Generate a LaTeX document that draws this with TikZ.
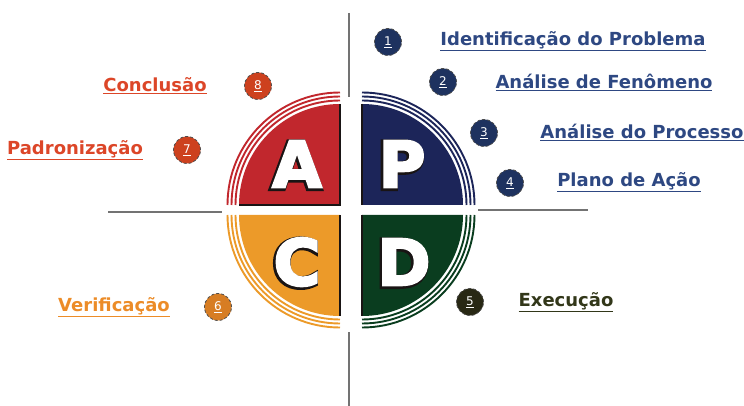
\documentclass[tikz,border=0pt]{standalone}
\usepackage{fontspec}
\setmainfont{DejaVu Sans}
\newfontfamily\letterout[FakeBold=8]{DejaVu Sans Bold}
\newfontfamily\letterin[FakeBold=3.5]{DejaVu Sans Bold}
\definecolor{cA}{RGB}{193,39,45}
\definecolor{cP}{RGB}{28,37,89}
\definecolor{cC}{RGB}{236,154,41}
\definecolor{cD}{RGB}{10,61,31}
\definecolor{lblue}{RGB}{46,72,130}
\definecolor{lred}{RGB}{220,70,40}
\definecolor{lorange}{RGB}{236,140,40}
\definecolor{ldark}{RGB}{50,55,25}
\definecolor{nblue}{RGB}{30,50,95}
\definecolor{ndark}{RGB}{40,40,20}
\definecolor{norange}{RGB}{215,125,35}
\definecolor{nred}{RGB}{205,65,30}
\definecolor{gline}{RGB}{115,115,115}
\definecolor{edge}{RGB}{25,20,20}
\begin{document}
\begin{tikzpicture}[x=1pt,y=-1pt,
  numc/.style={circle,minimum size=27pt,inner sep=0pt,draw=black!70,line width=0.8pt,densely dashed,text=white,font=\fontsize{12}{12}\selectfont},
  lbl/.style={inner sep=0pt,font=\fontsize{18}{18}\selectfont\bfseries},
  bigout/.style={inner sep=0pt,text=edge,font=\fontsize{64}{64}\selectfont\letterout},
  bigin/.style={inner sep=0pt,text=white,font=\fontsize{64}{64}\selectfont\letterin},
  sep/.style={draw=gline,line width=2.6pt}]
\useasboundingbox (0,0) rectangle (744,406);
% separator lines
\coordinate (vt1) at (349,13); \coordinate (vt2) at (349,97);
\coordinate (vb1) at (349,332); \coordinate (vb2) at (349,406);
\coordinate (hl1) at (108,212); \coordinate (hl2) at (222,212);
\coordinate (hr1) at (478,210); \coordinate (hr2) at (588,210);
\draw[sep] (vt1) -- (vt2);
\draw[sep] (vb1) -- (vb2);
\draw[sep] (hl1) -- (hl2);
\draw[sep] (hr1) -- (hr2);
% quadrants
\foreach \cx/\cy/\sa/\col in {340/205/180/cA, 362/205/270/cP, 340/215/90/cC, 362/215/0/cD}{
  \fill[\col] (\cx,\cy) -- ++(\sa:101) arc[start angle=\sa,delta angle=90,radius=101] -- cycle;
  \foreach \r in {104.5,108.5,112.5}
    \draw[\col,line width=1.9pt] ([shift={(\sa:\r)}]\cx,\cy) arc[start angle=\sa,delta angle=90,radius=\r];
}
% dark inner edges (shadow)
\draw[edge,line width=1.2pt] (239,205) -- (340,205) -- (340,104);
\draw[edge,line width=1.2pt] (362,104) -- (362,205);
\draw[edge,line width=1.2pt] (340,316) -- (340,215);
\draw[edge,line width=1.2pt] (362,215) -- (362,316);
% letters
\foreach \nm/\x/\y/\t in {A/297/164/A, P/402/164/P, C/297/262/C, D/404/262/D}{
  \node[bigout] at (\x-1.2,\y+1.2) {\t};
  \node[bigin] (L\nm) at (\x,\y) {\t};
}
% number circles
\node[numc,fill=nblue] (n1) at (388,42) {\underline{1}};
\node[numc,fill=nblue] (n2) at (443,82) {\underline{2}};
\node[numc,fill=nblue] (n3) at (484,133) {\underline{3}};
\node[numc,fill=nblue] (n4) at (510,183) {\underline{4}};
\node[numc,fill=ndark] (n5) at (470,302) {\underline{5}};
\node[numc,fill=norange] (n6) at (218,307) {\underline{6}};
\node[numc,fill=nred] (n7) at (187,150) {\underline{7}};
\node[numc,fill=nred] (n8) at (258,86) {\underline{8}};
% labels
\node[lbl,text=lblue] (t1) at (573,41) {\underline{Identificação do Problema}};
\node[lbl,text=lblue] (t2) at (604,82) {\underline{Análise de Fenômeno}};
\node[lbl,text=lblue] (t3) at (642,132) {\underline{Análise do Processo}};
\node[lbl,text=lblue] (t4) at (629,182) {\underline{Plano de Ação}};
\node[lbl,text=ldark] (t5) at (566,302) {\underline{Execução}};
\node[lbl,text=lorange] (t6) at (114,307) {\underline{Verificação}};
\node[lbl,text=lred] (t7) at (75,150) {\underline{Padronização}};
\node[lbl,text=lred] (t8) at (155,86) {\underline{Conclusão}};
\end{tikzpicture}
\end{document}
